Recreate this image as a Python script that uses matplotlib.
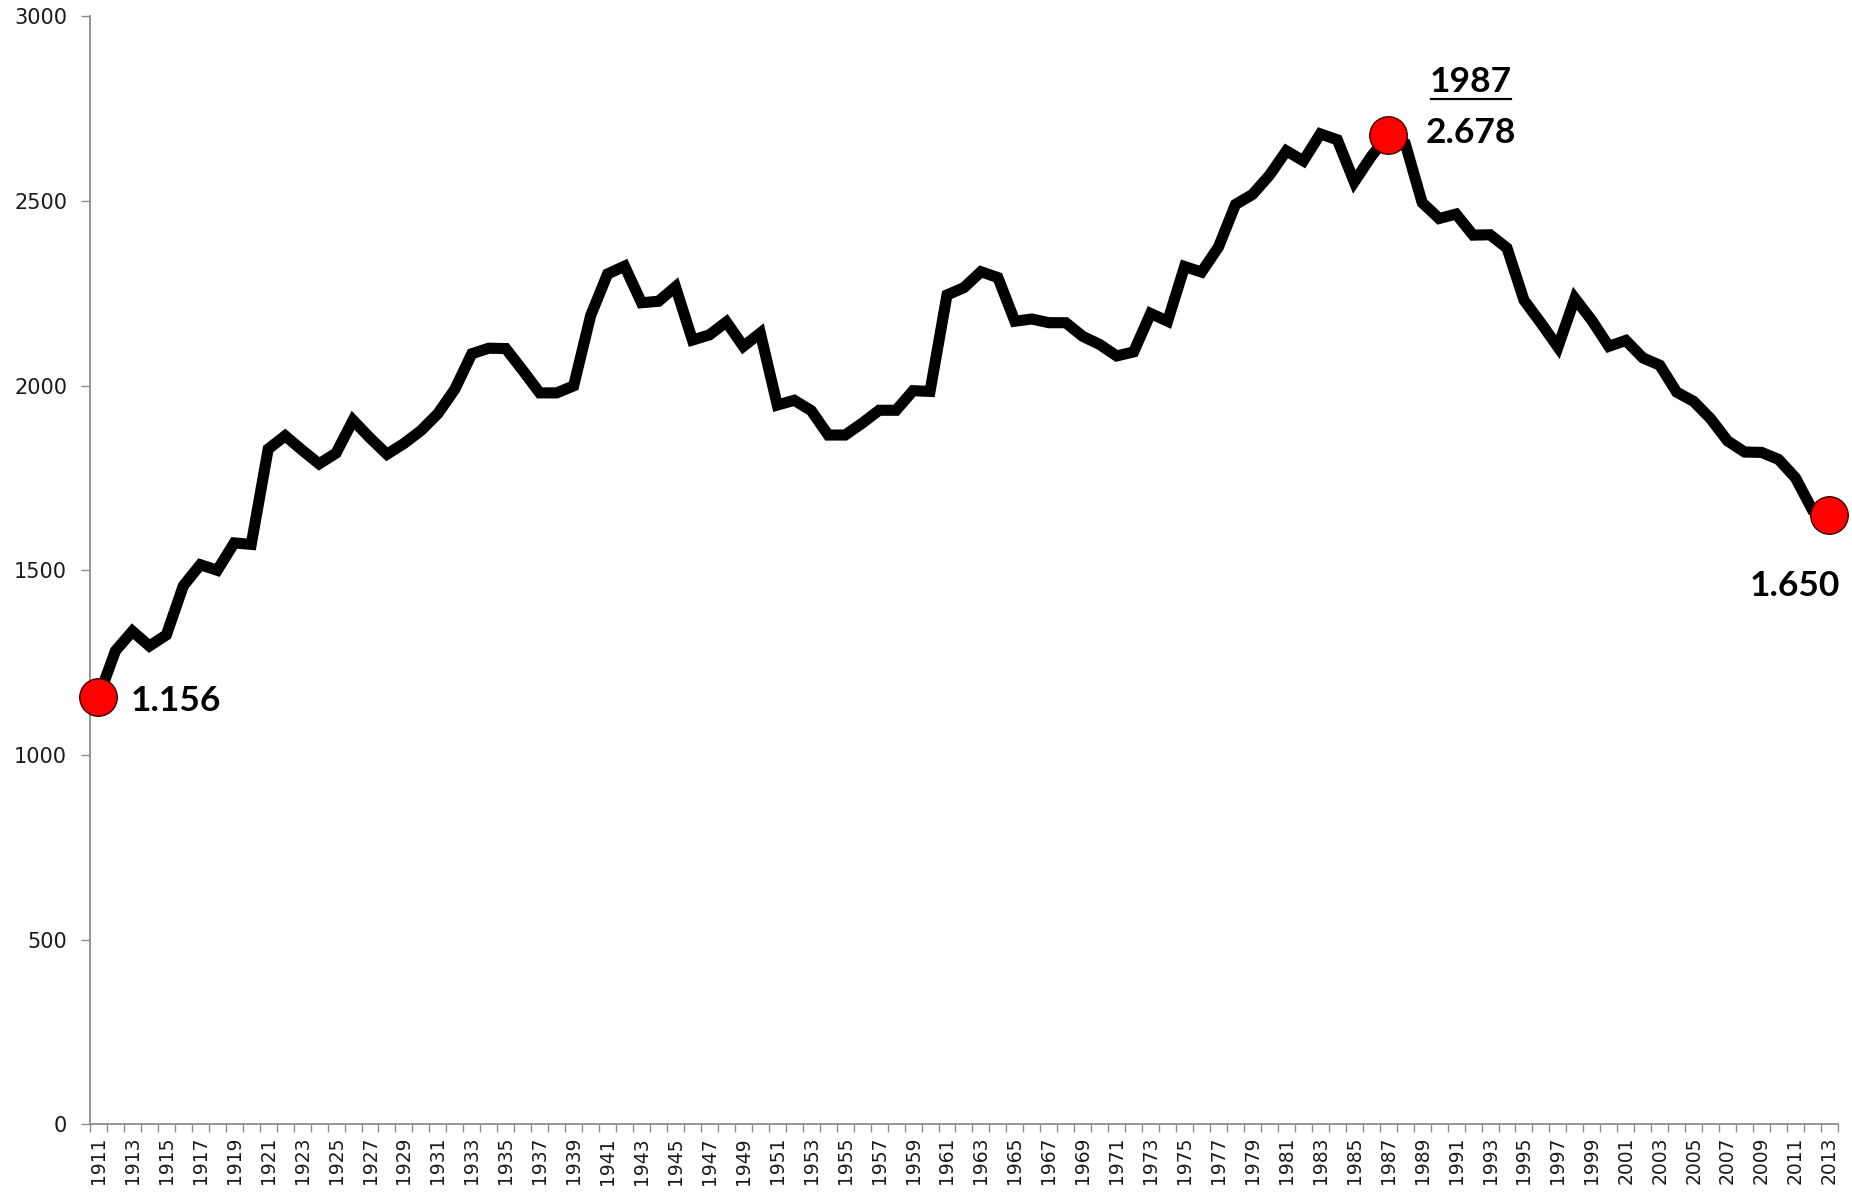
import matplotlib
matplotlib.use("Agg")
import matplotlib.pyplot as plt
from matplotlib.lines import Line2D
from matplotlib.ticker import FixedLocator

years = list(range(1911, 2014))
values = [
    1156, 1282, 1335, 1295, 1325, 1458, 1515, 1500, 1574, 1570,   # 1911-1920
    1828, 1864, 1825, 1788, 1817, 1906, 1858, 1814, 1843, 1878,   # 1921-1930
    1924, 1990, 2086, 2101, 2100, 2041, 1980, 1980, 1999, 2189,   # 1931-1940
    2302, 2323, 2224, 2228, 2267, 2123, 2137, 2172, 2106, 2142,   # 1941-1950
    1947, 1960, 1932, 1866, 1866, 1898, 1933, 1933, 1986, 1984,   # 1951-1960
    2245, 2265, 2308, 2292, 2174, 2180, 2170, 2170, 2133, 2111,   # 1961-1970
    2080, 2091, 2195, 2174, 2322, 2307, 2375, 2490, 2517, 2569,   # 1971-1980
    2635, 2608, 2681, 2665, 2551, 2620, 2678, 2655, 2495, 2452,   # 1981-1990
    2464, 2407, 2408, 2372, 2231, 2169, 2104, 2236, 2176, 2106,   # 1991-2000
    2122, 2075, 2055, 1982, 1957, 1910, 1850, 1820, 1819, 1800,   # 2001-2010
    1750, 1663, 1650,                                             # 2011-2013
]
highlight_years = [1911, 1987, 2013]
highlight_labels = ["1.156", "2.678", "1.650"]
peak_title = "1987"
y_ticks = [0, 500, 1000, 1500, 2000, 2500, 3000]
x_label_years = list(range(1911, 2014, 2))

fig = plt.figure(figsize=(18.52, 11.96), dpi=100)
ax = fig.add_axes([0.0486, 0.0598, 0.9438, 0.9268])

ax.plot(years, values, color="black", lw=8.0, solid_joinstyle="miter", zorder=2)

hv = [values[years.index(y)] for y in highlight_years]
ax.plot(highlight_years, hv, linestyle="none", marker="o", markersize=27,
        markerfacecolor="#ff0000", markeredgecolor="#3a0000", markeredgewidth=1.0,
        zorder=3, clip_on=False)

ax.set_xlim(1910.5, 2013.5)
ax.set_ylim(0, 3000)
ax.set_yticks(y_ticks)
ax.set_yticklabels([str(t) for t in y_ticks])
ax.xaxis.set_major_locator(FixedLocator(x_label_years))
ax.set_xticklabels([str(y) for y in x_label_years], rotation=90)
ax.xaxis.set_minor_locator(FixedLocator([y - 0.5 for y in years] + [years[-1] + 0.5]))

for s in ["top", "right"]:
    ax.spines[s].set_visible(False)
for s in ["left", "bottom"]:
    ax.spines[s].set_color("#8c8c8c")
    ax.spines[s].set_linewidth(1.3)

ax.tick_params(axis="y", which="major", direction="out", length=6.5, width=1.0,
               color="#8c8c8c", labelsize=15, labelcolor="#1a1a1a", pad=10)
ax.tick_params(axis="x", which="major", length=0, labelsize=13.5,
               labelcolor="#1a1a1a", pad=9)
ax.tick_params(axis="x", which="minor", direction="out", length=6, width=1.0,
               color="#8c8c8c")

font = dict(family="Lato", weight="bold", size=25.5, color="black")

ax.annotate(highlight_labels[0], xy=(highlight_years[0], hv[0]),
            xytext=(32, -4), textcoords="offset pixels", ha="left", va="center", **font)
ax.annotate(highlight_labels[1], xy=(highlight_years[1], hv[1]),
            xytext=(37, 2), textcoords="offset pixels", ha="left", va="center", **font)
t_title = ax.annotate(peak_title, xy=(highlight_years[1], hv[1]),
                      xytext=(83, 53), textcoords="offset pixels", ha="center",
                      va="center", **font)
ax.annotate(highlight_labels[2], xy=(highlight_years[2], hv[2]),
            xytext=(11, -71), textcoords="offset pixels", ha="right", va="center", **font)

# underline under the peak year label
fig.canvas.draw()
bb = t_title.get_window_extent(renderer=fig.canvas.get_renderer())
W, H = fig.get_size_inches() * fig.dpi
y_line = bb.y0 - 1
fig.add_artist(Line2D([(bb.x0 + 1) / W, (bb.x1 - 1) / W], [y_line / H, y_line / H],
                      transform=fig.transFigure, color="black", lw=1.6))

fig.savefig("out.png", dpi=100, facecolor="white")
